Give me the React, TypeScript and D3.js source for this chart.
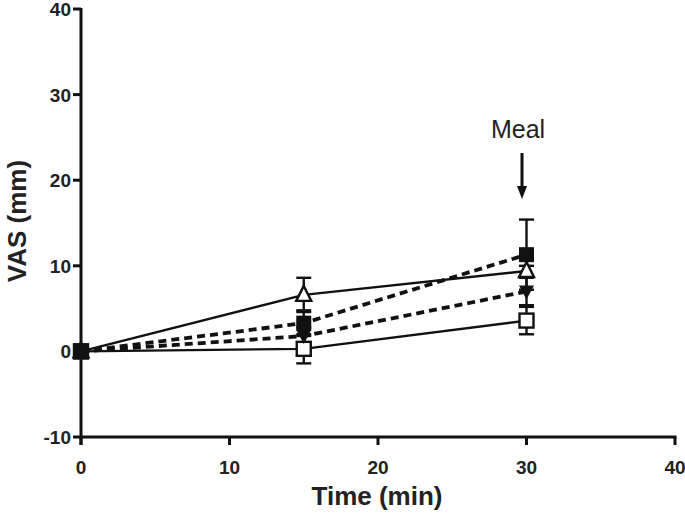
import React from "react";
import * as d3 from "d3";

const times = [0, 15, 30];
const xTicks = [0, 10, 20, 30, 40];
const yTicks = [-10, 0, 10, 20, 30, 40];

const openSquareMean = [0, 0.3, 3.6];
const openSquareErr = [0, 1.7, 1.6];
const openTriMean = [0, 6.6, 9.4];
const openTriErr = [0, 2.0, 0.6];
const filledSquareMean = [0, 3.3, 11.3];
const filledSquareErr = [0, 1.5, 4.1];
const filledTriMean = [0, 1.8, 7.0];
const filledTriErr = [0, 1.0, 1.6];

const W = 685, H = 515;
const x = d3.scaleLinear().domain([0, 40]).range([81, 675]);
const y = d3.scaleLinear().domain([-10, 40]).range([437, 9]);

type Series = { mean: number[]; err: number[]; marker: string; dashed: boolean; lw: number };
const series: Series[] = [
  { mean: openSquareMean, err: openSquareErr, marker: "openSquare", dashed: false, lw: 2.4 },
  { mean: openTriMean, err: openTriErr, marker: "openTri", dashed: false, lw: 2.4 },
  { mean: filledTriMean, err: filledTriErr, marker: "filledTriDown", dashed: true, lw: 3.8 },
  { mean: filledSquareMean, err: filledSquareErr, marker: "filledSquare", dashed: true, lw: 3.8 },
];

function Marker({ type, cx, cy }: { type: string; cx: number; cy: number }) {
  const s = 14;
  if (type === "openSquare")
    return <rect x={cx - s / 2} y={cy - s / 2} width={s} height={s} fill="white" stroke="#111" strokeWidth={2.4} />;
  if (type === "filledSquare")
    return <rect x={cx - 7.5} y={cy - 7.5} width={15} height={15} fill="#111" />;
  if (type === "openTri") {
    const p = `${cx},${cy - 9} ${cx - 7.5},${cy + 6} ${cx + 7.5},${cy + 6}`;
    return <polygon points={p} fill="white" stroke="#111" strokeWidth={2.4} />;
  }
  const p = `${cx - 7.5},${cy - 6} ${cx + 7.5},${cy - 6} ${cx},${cy + 8}`;
  return <polygon points={p} fill="#111" />;
}

export default function App() {
  const line = d3.line<number>().x((_, i) => x(times[i])).y((d) => y(d));
  const font = "Liberation Sans, Arial, sans-serif";
  return (
    <svg width={W} height={H} style={{ position: "absolute", left: 0, top: 0 }} fontFamily={font}>
      <rect width={W} height={H} fill="white" />
      {series.map((s, k) => (
        <path key={"l" + k} d={line(s.mean) || ""} fill="none" stroke="#111" strokeWidth={s.lw}
          strokeDasharray={s.dashed ? "8,5" : undefined} />
      ))}
      {series.map((s, k) =>
        s.mean.map((m, i) =>
          s.err[i] > 0 ? (
            <g key={"e" + k + i} stroke="#111" strokeWidth={2.4}>
              <line x1={x(times[i])} x2={x(times[i])} y1={y(m - s.err[i])} y2={y(m + s.err[i])} />
              <line x1={x(times[i]) - 7.5} x2={x(times[i]) + 7.5} y1={y(m + s.err[i])} y2={y(m + s.err[i])} />
              <line x1={x(times[i]) - 7.5} x2={x(times[i]) + 7.5} y1={y(m - s.err[i])} y2={y(m - s.err[i])} />
            </g>
          ) : null
        )
      )}
      {series.map((s, k) =>
        s.mean.map((m, i) => <Marker key={"m" + k + i} type={s.marker} cx={x(times[i])} cy={y(m)} />)
      )}
      <rect x={x(0) - 8} y={y(0) - 8} width={16} height={16} fill="#111" />
      <line x1={x(0)} x2={x(0)} y1={y(40) - 1} y2={y(-10) + 8} stroke="#111" strokeWidth={3} />
      <line x1={x(0) - 1} x2={x(40) + 1.5} y1={y(-10)} y2={y(-10)} stroke="#111" strokeWidth={3} />
      {yTicks.map((t) => (
        <g key={"yt" + t}>
          <line x1={x(0) - 8} x2={x(0)} y1={y(t)} y2={y(t)} stroke="#111" strokeWidth={3} />
          <text x={x(0) - 10} y={y(t) + 7} textAnchor="end" fontSize={19} fontWeight="bold" fill="#222">{t}</text>
        </g>
      ))}
      {xTicks.map((t) => (
        <g key={"xt" + t}>
          <line x1={x(t)} x2={x(t)} y1={y(-10)} y2={y(-10) + 8} stroke="#111" strokeWidth={3} />
          <text x={x(t)} y={y(-10) + 37} textAnchor="middle" fontSize={19} fontWeight="bold" fill="#222">{t}</text>
        </g>
      ))}
      <text x={377} y={505} textAnchor="middle" fontSize={26} fontWeight="bold" fill="#222">Time (min)</text>
      <text transform={`translate(26, 221) rotate(-90)`} textAnchor="middle" fontSize={26} fontWeight="bold" fill="#222">VAS (mm)</text>
      <text x={518} y={138} textAnchor="middle" fontSize={25} fill="#222">Meal</text>
      <line x1={522} x2={522} y1={153} y2={190} stroke="#111" strokeWidth={3} />
      <polygon points="517,186 527,186 522,199" fill="#111" />
    </svg>
  );
}
